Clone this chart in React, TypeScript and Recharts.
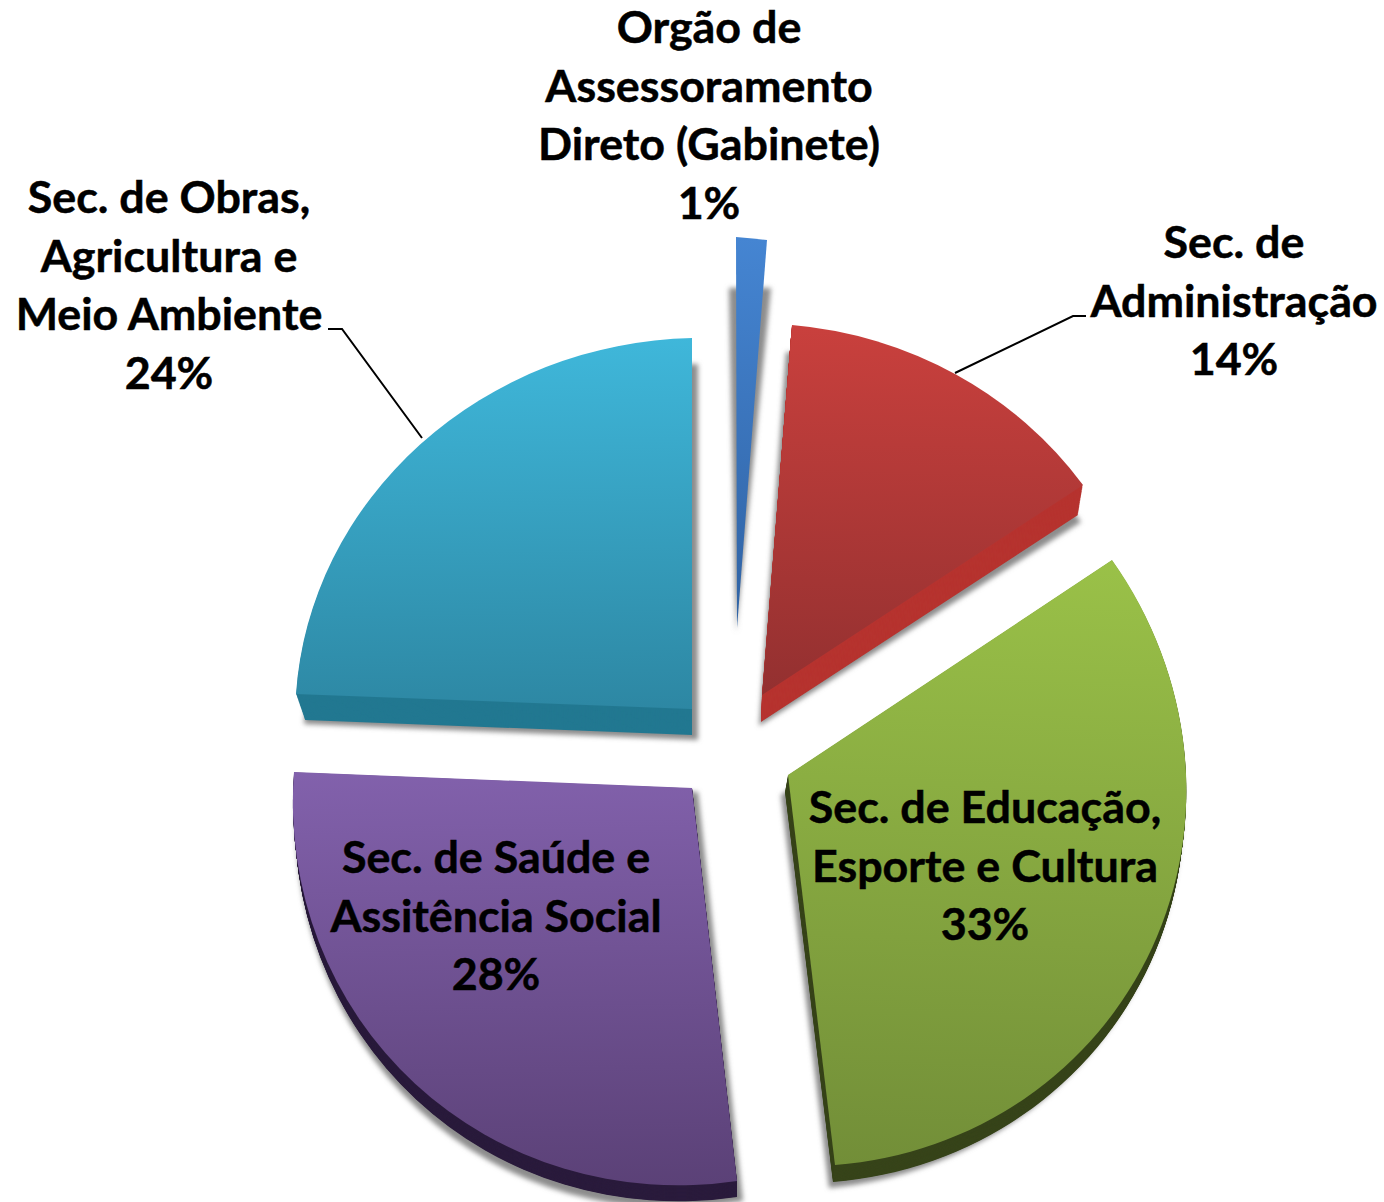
import { Cell, Pie, PieChart } from "recharts";

const CATEGORIES = [
  "Orgão de Assessoramento Direto (Gabinete)",
  "Sec. de Administração",
  "Sec. de Educação, Esporte e Cultura",
  "Sec. de Saúde e Assitência Social",
  "Sec. de Obras, Agricultura e Meio Ambiente",
];
const VALUES = [1, 14, 33, 28, 24];
const LABEL_LINES = [
  ["Orgão de", "Assessoramento", "Direto (Gabinete)", "1%"],
  ["Sec. de", "Administração", "14%"],
  ["Sec. de Educação,", "Esporte e Cultura", "33%"],
  ["Sec. de Saúde e", "Assitência Social", "28%"],
  ["Sec. de Obras,", "Agricultura e", "Meio Ambiente", "24%"],
];

const pieData = CATEGORIES.map((name, i) => ({ name, value: VALUES[i] }));

type Pt = [number, number];
type Frame = { apex: Pt; a: Pt; b: Pt }; // where the slice's apex and two arc ends land on the page

// the 3D tilt and explosion of each slice, as an affine frame per layer
const FACES: Frame[] = [
  { apex: [737, 628], a: [736, 237], b: [767, 240] },
  { apex: [762, 695], a: [792, 325], b: [1083, 485] },
  { apex: [788, 775], a: [1112, 560], b: [835, 1165] },
  { apex: [692, 788], a: [737, 1181], b: [294, 772] },
  { apex: [692, 709], a: [296, 694], b: [692, 338] },
];
const WALLS: (Frame | null)[] = [
  null,
  { apex: [761, 722], a: [790, 352], b: [1078, 515] },
  { apex: [785, 792], a: [1109, 576], b: [833, 1182] },
  { apex: [693, 803], a: [737, 1197], b: [296, 787] },
  { apex: [692, 735], a: [305, 720], b: [692, 365] },
];
const SHADOWS: Frame[] = [
  { apex: [736, 632], a: [729, 288], b: [771, 288] },
  { apex: [759, 726], a: [786, 352], b: [1081, 522] },
  { apex: [781, 795], a: [1107, 572], b: [829, 1188] },
  { apex: [698, 792], a: [743, 1201], b: [297, 788] },
  { apex: [698, 740], a: [304, 724], b: [698, 364] },
];
const TOP_COLORS = ["#4585d2", "#c9403d", "#9ac148", "#8261ac", "#3fb7da"];
const BOTTOM_COLORS = ["#2f62a3", "#933030", "#728e38", "#5b4177", "#2d87a3"];
const WALL_COLORS = ["#2f62a3", "#b6332f", "#37441a", "#2a1b3c", "#227891"];

const LABEL_POS = [
  { x: 709, y: 43 },
  { x: 1234, y: 258 },
  { x: 985, y: 823 },
  { x: 496, y: 873 },
  { x: 169, y: 213 },
];
const LEADERS = [
  "1086,316 1073,316 955,373",
  "328,329 342,329 422,438",
];

const RADIUS = 400;
const WALL_LAYERS = 28; // extrusion: enough copies that the side wall reads as solid
const TOTAL = VALUES.reduce((s, v) => s + v, 0);

function mixPt(p: Pt, q: Pt, t: number): Pt {
  return [p[0] + (q[0] - p[0]) * t, p[1] + (q[1] - p[1]) * t];
}

function mixFrame(f: Frame, g: Frame, t: number): Frame {
  return { apex: mixPt(f.apex, g.apex, t), a: mixPt(f.a, g.a, t), b: mixPt(f.b, g.b, t) };
}

function sliceMatrix(index: number, f: Frame) {
  const before = VALUES.slice(0, index).reduce((s, v) => s + v, 0);
  const t0 = (before / TOTAL) * 2 * Math.PI;
  const t1 = ((before + VALUES[index]) / TOTAL) * 2 * Math.PI;
  // arc ends, clockwise from 12 o'clock, in svg coordinates
  const ux = Math.sin(t0) * RADIUS;
  const uy = -Math.cos(t0) * RADIUS;
  const vx = Math.sin(t1) * RADIUS;
  const vy = -Math.cos(t1) * RADIUS;
  const det = ux * vy - vx * uy;
  const ax = f.a[0] - f.apex[0];
  const ay = f.a[1] - f.apex[1];
  const bx = f.b[0] - f.apex[0];
  const by = f.b[1] - f.apex[1];
  const m11 = (ax * vy - bx * uy) / det;
  const m12 = (bx * ux - ax * vx) / det;
  const m21 = (ay * vy - by * uy) / det;
  const m22 = (by * ux - ay * vx) / det;
  return `matrix(${m11} ${m21} ${m12} ${m22} ${f.apex[0]} ${f.apex[1]})`;
}

function SliceLayer({ index, fill, frame }: { index: number; fill: string; frame: Frame }) {
  return (
    <g transform={sliceMatrix(index, frame)}>
      <Pie
        data={pieData}
        dataKey="value"
        nameKey="name"
        cx={0}
        cy={0}
        innerRadius={0}
        outerRadius={RADIUS}
        startAngle={90}
        endAngle={-270}
        stroke="none"
        zIndex={0}
        isAnimationActive={false}
      >
        {pieData.map((d, i) => (
          <Cell key={d.name} fill={i === index ? fill : "none"} />
        ))}
      </Pie>
    </g>
  );
}

export default function App() {
  return (
    <div style={{ position: "absolute", left: 0, top: 0, width: 1384, height: 1202, background: "#fff" }}>
      <PieChart width={1384} height={1202} margin={{ top: 0, right: 0, bottom: 0, left: 0 }}>
        <defs>
          <filter id="sliceBlur" filterUnits="userSpaceOnUse" x="0" y="0" width="1384" height="1202">
            <feGaussianBlur stdDeviation="2.5" />
          </filter>
          {TOP_COLORS.map((c, i) => (
            <linearGradient key={c} id={`sliceFill${i}`} x1="0" y1="0" x2="0" y2="1">
              <stop offset="0%" stopColor={c} />
              <stop offset="100%" stopColor={BOTTOM_COLORS[i]} />
            </linearGradient>
          ))}
        </defs>
        {FACES.map((face, i) => {
          const wall = WALLS[i];
          return (
            <g key={i}>
              <g filter="url(#sliceBlur)">
                <SliceLayer index={i} fill="#8c8c8c" frame={SHADOWS[i]} />
              </g>
              {wall
                ? Array.from({ length: WALL_LAYERS }, (_, k) => (
                    <SliceLayer
                      key={k}
                      index={i}
                      fill={WALL_COLORS[i]}
                      frame={mixFrame(face, wall, 1 - k / WALL_LAYERS)}
                    />
                  ))
                : null}
              <SliceLayer index={i} fill={`url(#sliceFill${i})`} frame={face} />
            </g>
          );
        })}
        {LEADERS.map((points) => (
          <polyline key={points} points={points} fill="none" stroke="#000" strokeWidth={2} />
        ))}
        {LABEL_LINES.map((lines, i) => (
          <text
            key={CATEGORIES[i]}
            textAnchor="middle"
            fontFamily="Lato, sans-serif"
            fontWeight={700}
            fontSize={44.8}
            fill="#000"
            stroke="#000"
            strokeWidth={0.5}
          >
            {lines.map((line, j) => (
              <tspan key={j} x={LABEL_POS[i].x} y={LABEL_POS[i].y + j * 58.7}>
                {line}
              </tspan>
            ))}
          </text>
        ))}
      </PieChart>
    </div>
  );
}
